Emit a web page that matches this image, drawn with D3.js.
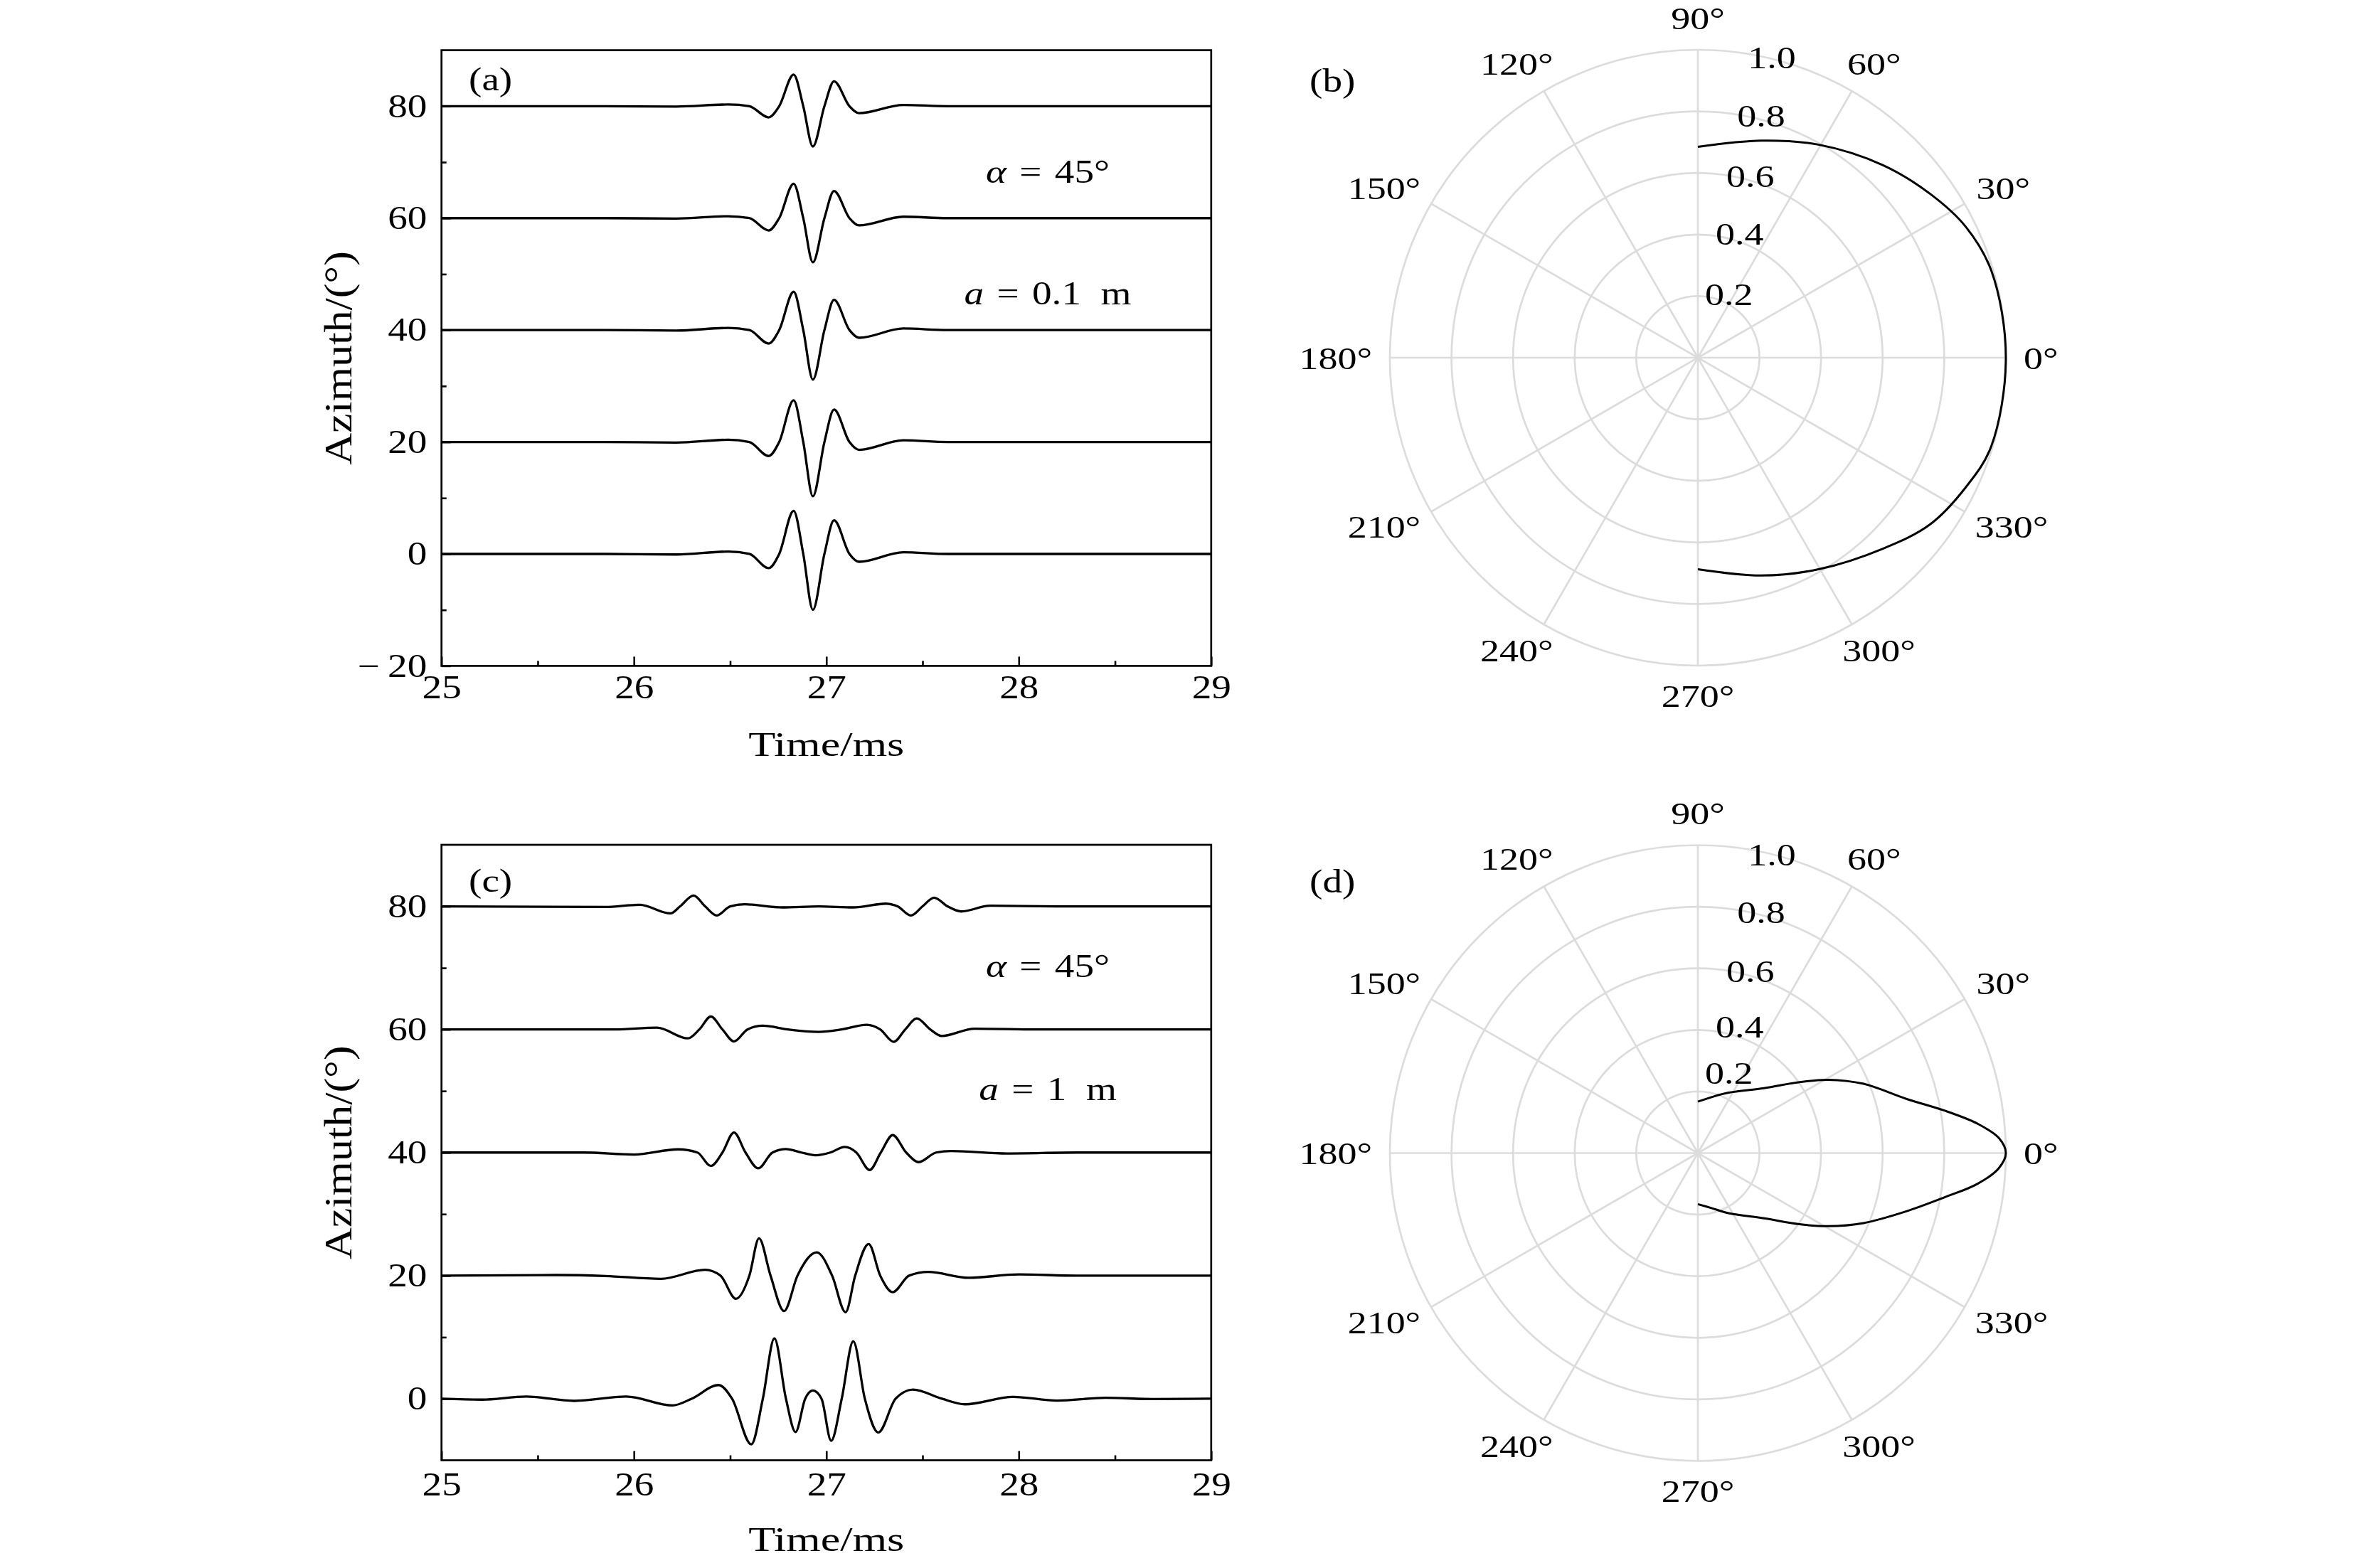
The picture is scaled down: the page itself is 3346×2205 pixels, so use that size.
<!DOCTYPE html>
<html>
<head>
<meta charset="utf-8">
<script src="https://cdn.jsdelivr.net/npm/d3@7.9.0/dist/d3.min.js"></script>
<style>
  body { margin: 0; background: #fff; }
  svg text { font-family: "Liberation Serif", "Times New Roman", serif; fill: #000; }
</style>
</head>
<body>
<svg id="fig" width="3346" height="2205"></svg>
<script>
// ---- data ----
const timeTicks = [25, 26, 27, 28, 29];
const timeMinor = [25.5, 26.5, 27.5, 28.5];
const azTicksA = [-20, 0, 20, 40, 60, 80];
const azMinorA = [-10, 10, 30, 50, 70];
const azTicksC = [0, 20, 40, 60, 80];
const azMinorC = [10, 30, 50, 70];
const azimuths = [0, 20, 40, 60, 80];

// (a) a = 0.1 m : one shared time axis, one amplitude list per azimuth
const timeA = [25.0, 25.85, 26.22, 26.49, 26.60, 26.70, 26.755, 26.83, 26.88, 26.93, 26.99, 27.04, 27.12, 27.17, 27.40, 27.63, 29.0];
const ampA0  = [0, 0, -0.10, 0.42, 0, -2.54, 0, 7.71, 0, -10.0, 0, 6.01, 0, -1.40, 0.30, 0, 0];
const ampA20 = [0, 0, -0.10, 0.40, 0, -2.50, 0, 7.45, 0, -9.70, 0, 5.80, 0, -1.40, 0.30, 0, 0];
const ampA40 = [0, 0, -0.09, 0.38, 0, -2.40, 0, 6.85, 0, -8.85, 0, 5.40, 0, -1.38, 0.28, 0, 0];
const ampA60 = [0, 0, -0.08, 0.34, 0, -2.20, 0, 6.15, 0, -7.90, 0, 4.85, 0, -1.30, 0.25, 0, 0];
const ampA80 = [0, 0, -0.07, 0.30, 0, -2.00, 0, 5.65, 0, -7.20, 0, 4.45, 0, -1.25, 0.22, 0, 0];

// (c) a = 1 m
const timeC0 = [25.0, 25.21, 25.44, 25.69, 25.96, 26.20, 26.30, 26.44, 26.51, 26.61, 26.67, 26.73, 26.79, 26.84, 26.89, 26.93, 26.975, 27.025, 27.08, 27.14, 27.20, 27.27, 27.36, 27.45, 27.60, 27.72, 27.97, 28.20, 28.45, 28.70, 29.0];
const ampC0  = [0, -0.15, 0.35, -0.35, 0.35, -1.10, 0, 2.22, 0, -7.42, 0, 9.80, 0, -5.41, 0, 1.33, 0, -6.84, 0, 9.34, 0, -5.49, 0, 1.48, 0, -0.90, 0.30, -0.30, 0.15, -0.05, 0];
const timeC20 = [25.0, 25.60, 25.85, 26.14, 26.37, 26.45, 26.53, 26.60, 26.65, 26.71, 26.78, 26.85, 26.95, 27.03, 27.10, 27.15, 27.22, 27.28, 27.345, 27.43, 27.53, 27.74, 28.0, 28.3, 29.0];
const ampC20  = [0, 0.10, -0.05, -0.52, 0.95, 0, -3.76, 0, 6.07, 0, -5.76, 0, 3.79, 0, -5.95, 0, 5.14, 0, -2.68, 0, 0.60, -0.35, 0.20, 0, 0];
const timeC40 = [25.0, 25.74, 26.00, 26.23, 26.33, 26.40, 26.46, 26.52, 26.58, 26.646, 26.72, 26.79, 26.87, 26.944, 27.02, 27.096, 27.156, 27.225, 27.283, 27.345, 27.415, 27.48, 27.57, 27.65, 27.94, 28.3, 29.0];
const ampC40  = [0, 0, -0.33, 0.52, 0, -2.18, 0, 3.26, 0, -2.56, 0, 0.56, 0, -0.44, 0, 0.91, 0, -2.83, 0, 2.83, 0, -1.56, 0, 0.25, -0.15, 0, 0];
const timeC60 = [25.0, 25.90, 26.12, 26.28, 26.34, 26.40, 26.46, 26.52, 26.59, 26.67, 26.80, 26.96, 27.08, 27.21, 27.28, 27.35, 27.41, 27.47, 27.54, 27.60, 27.77, 28.1, 29.0];
const ampC60  = [0, 0, 0.29, -1.45, 0, 2.10, 0, -1.95, 0, 0.60, 0, -0.40, 0, 0.75, 0, -2.02, 0, 1.79, 0, -1.06, 0.13, 0, 0];
const timeC80 = [25.0, 25.85, 26.03, 26.19, 26.24, 26.31, 26.37, 26.43, 26.50, 26.575, 26.77, 26.96, 27.14, 27.31, 27.37, 27.44, 27.50, 27.56, 27.63, 27.70, 27.85, 28.2, 29.0];
const ampC80  = [0, -0.10, 0.25, -1.14, 0, 1.75, 0, -1.48, 0, 0.33, -0.17, 0, -0.17, 0.44, 0, -1.48, 0, 1.41, 0, -0.83, 0.10, 0, 0];

// polar patterns: angle in degrees, normalised amplitude
const thetaB = [-90, -73.7, -60.3, -46, -35.7, -25.9, -16.9, 0, 16.4, 26.1, 35.2, 46.2, 60.5, 73.6, 90];
const rB     = [0.687, 0.737, 0.791, 0.863, 0.928, 0.966, 0.995, 1.0, 0.994, 0.968, 0.923, 0.867, 0.795, 0.735, 0.685];
const thetaD = [-90, -75.6, -63, -44.6, -35, -29.3, -22.9, -15.6, -10.2, -6.3, -2.9, 0, 2.9, 6.0, 9.8, 14.6, 22.7, 29.4, 34.9, 44.5, 63.1, 75.8, 90];
const rD     = [0.166, 0.185, 0.219, 0.302, 0.403, 0.485, 0.584, 0.703, 0.813, 0.913, 0.978, 1.0, 0.978, 0.913, 0.812, 0.699, 0.583, 0.485, 0.403, 0.301, 0.220, 0.188, 0.167];

const polarAngles = d3.range(0, 360, 30);
const polarRings = [0.2, 0.4, 0.6, 0.8, 1.0];

// ---- drawing ----
const svg = d3.select('#fig');
const SX = 1.2;          // the lettering in the figure is wide
const FS = 46;
const rad = Math.PI / 180;

function label(x, y, str, anchor, size, rot, sx) {
  return svg.append('text')
    .attr('transform', `translate(${x},${y}) rotate(${rot || 0}) scale(${sx || SX},1)`)
    .attr('text-anchor', anchor || 'middle')
    .attr('font-size', size || FS)
    .text(str);
}

function note(x, y, parts) {
  const t = svg.append('text')
    .attr('transform', `translate(${x},${y}) scale(${SX},1)`)
    .attr('text-anchor', 'middle')
    .attr('font-size', FS);
  parts.forEach(([s, it]) => t.append('tspan').attr('font-style', it ? 'italic' : null).text(s));
}

// math-style minus: a little air between the sign and the digits
const tickFmt = d => d3.format('d')(d).replace('−', '−\u2009');

function tracePanel(box, yDomain, yTicks, yMinor, traces) {
  const x = d3.scaleLinear([25, 29], [box.x0, box.x1]);
  const y = d3.scaleLinear(yDomain, [box.y1, box.y0]);
  const g = svg.append('g');

  const line = d3.line()
    .x(d => x(d[0]))
    .y(d => y(d[1]))
    .curve(d3.curveMonotoneX);

  traces.forEach(tr => {
    const pts = tr.time.map((t, i) => [t, tr.base + tr.amp[i]]);
    g.append('path')
      .attr('d', line(pts))
      .attr('fill', 'none')
      .attr('stroke', '#000')
      .attr('stroke-width', 3.3)
      .attr('stroke-linejoin', 'round');
  });

  const styleAxis = (sel) => {
    sel.attr('font-family', null).attr('font-size', FS);
    sel.select('.domain').remove();
    sel.selectAll('line').attr('stroke', '#000').attr('stroke-width', 2.6);
  };

  const xa = g.append('g')
    .attr('transform', `translate(0,${box.y1})`)
    .call(d3.axisBottom(x).tickValues(timeTicks).tickSize(-13).tickPadding(13 + box.lab).tickFormat(d3.format('d')))
    .call(styleAxis);
  xa.selectAll('text').attr('transform', `scale(${SX},1)`);

  g.append('g')
    .attr('transform', `translate(0,${box.y1})`)
    .call(d3.axisBottom(x).tickValues(timeMinor).tickSize(-7).tickFormat(''))
    .call(styleAxis);

  const ya = g.append('g')
    .attr('transform', `translate(${box.x0},0)`)
    .call(d3.axisLeft(y).tickValues(yTicks).tickSize(-13).tickPadding(17).tickFormat(tickFmt))
    .call(styleAxis);
  ya.selectAll('text').attr('transform', `scale(${SX},1)`);

  g.append('g')
    .attr('transform', `translate(${box.x0},0)`)
    .call(d3.axisLeft(y).tickValues(yMinor).tickSize(-7).tickFormat(''))
    .call(styleAxis);

  g.append('rect')
    .attr('x', box.x0).attr('y', box.y0)
    .attr('width', box.x1 - box.x0).attr('height', box.y1 - box.y0)
    .attr('fill', 'none').attr('stroke', '#000').attr('stroke-width', 2.7);

  label((box.x0 + box.x1) / 2, box.y1 + 127, 'Time/ms', 'middle', 49, 0, 1.27);
  label(494, (box.y0 + box.y1) / 2, 'Azimuth/(°)', 'middle', 54, -90, 1.15);
}

function polarPanel(cx, cy, theta, r, lift) {
  const rs = d3.scaleLinear([0, 1], [0, 433]);
  const g = svg.append('g').attr('transform', `translate(${cx},${cy})`);

  polarRings.forEach(v => {
    g.append('circle').attr('r', rs(v))
      .attr('fill', 'none').attr('stroke', '#dcdcdc').attr('stroke-width', 2.7);
  });
  polarAngles.forEach(a => {
    g.append('line')
      .attr('x2', rs(1) * Math.cos(a * rad))
      .attr('y2', -rs(1) * Math.sin(a * rad))
      .attr('stroke', '#dcdcdc').attr('stroke-width', 2.7);
  });

  const line = d3.lineRadial()
    .angle(d => (90 - d[0]) * rad)
    .radius(d => rs(d[1]))
    .curve(d3.curveCatmullRom);
  g.append('path')
    .attr('d', line(theta.map((t, i) => [t, r[i]])))
    .attr('fill', 'none').attr('stroke', '#000').attr('stroke-width', 3);

  // radial labels along the 80 degree direction
  polarRings.forEach((v, i) => {
    g.append('text')
      .attr('transform', `translate(${rs(v) * Math.cos(80 * rad) - 5},${-rs(v) * Math.sin(80 * rad) - (lift[i] || 0)}) scale(${SX},1)`)
      .attr('dy', '0.35em')
      .attr('font-size', 45)
      .text(d3.format('.1f')(v));
  });

  // angle labels just outside the outer ring
  polarAngles.forEach(a => {
    const t = g.append('text')
      .attr('text-anchor', 'middle')
      .attr('dy', '0.35em')
      .attr('font-size', 45)
      .text(`${a}°`);
    const w = t.node().getComputedTextLength() * SX;
    const c = Math.cos(a * rad), s = Math.sin(a * rad);
    const px = c * (rs(1) + 25 + w / 2);
    const py = -s * (s > 0 ? 478 : 475);
    t.attr('transform', `translate(${px},${py}) scale(${SX},1)`);
  });
}

const boxA = { x0: 620.7, x1: 1702.8, y0: 70.6, y1: 936.4, lab: 0 };
const boxC = { x0: 620.7, x1: 1702.8, y0: 1188, y1: 2053.5, lab: 4 };

const ampsA = [ampA0, ampA20, ampA40, ampA60, ampA80];
tracePanel(boxA, [-20, 90], azTicksA, azMinorA,
  azimuths.map((az, i) => ({ base: az, time: timeA, amp: ampsA[i] })));

const timesC = [timeC0, timeC20, timeC40, timeC60, timeC80];
const ampsC = [ampC0, ampC20, ampC40, ampC60, ampC80];
tracePanel(boxC, [-10, 90], azTicksC, azMinorC,
  azimuths.map((az, i) => ({ base: az, time: timesC[i], amp: ampsC[i] })));

polarPanel(2387, 503, thetaB, rB, [4, 4, 0, 0, -4]);
polarPanel(2387, 1621.5, thetaD, rD, [28, 8, 0, -2, -6]);

// panel tags and notes
label(659, 127, '(a)', 'start');
label(659, 1254, '(c)', 'start');
label(1841, 129, '(b)', 'start');
label(1841, 1255, '(d)', 'start');

const sp = '\u2004';
note(1473, 257, [['α', true], [`${sp}=${sp}45°`, false]]);
note(1473, 428, [['a', true], [`${sp}=${sp}0.1\u2002m`, false]]);
note(1473, 1374, [['α', true], [`${sp}=${sp}45°`, false]]);
note(1473, 1547, [['a', true], [`${sp}=${sp}1\u2002m`, false]]);
</script>
</body>
</html>
